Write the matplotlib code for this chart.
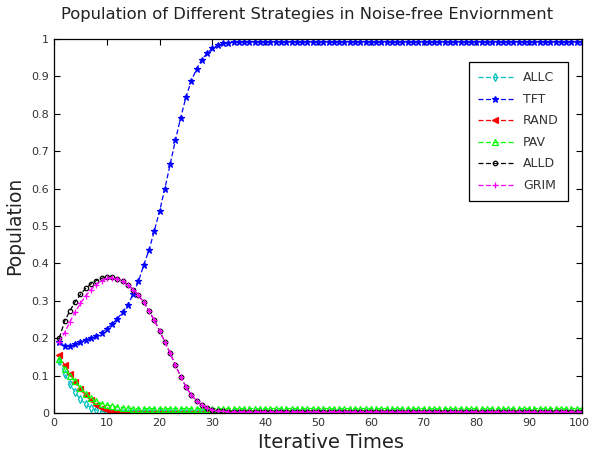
import numpy as np
import matplotlib.transforms as mtransforms
from matplotlib import pyplot as plt

plt.rcParams['font.family'] = ['DejaVu Sans']

# iteration index and population share of each strategy
iters = np.arange(1, 101)

allc = [0.14, 0.105, 0.078, 0.055, 0.037, 0.024, 0.014, 0.008, 0.004, 0.002,
        0.001, 0.0, 0.0, 0.0, 0.0, 0.0, 0.0, 0.0, 0.0, 0.0,
        0.0, 0.0, 0.0, 0.0, 0.0, 0.0, 0.0, 0.0, 0.0, 0.0,
        0.0, 0.0, 0.0, 0.0, 0.0, 0.0, 0.0, 0.0, 0.0, 0.0,
        0.0, 0.0, 0.0, 0.0, 0.0, 0.0, 0.0, 0.0, 0.0, 0.0,
        0.0, 0.0, 0.0, 0.0, 0.0, 0.0, 0.0, 0.0, 0.0, 0.0,
        0.0, 0.0, 0.0, 0.0, 0.0, 0.0, 0.0, 0.0, 0.0, 0.0,
        0.0, 0.0, 0.0, 0.0, 0.0, 0.0, 0.0, 0.0, 0.0, 0.0,
        0.0, 0.0, 0.0, 0.0, 0.0, 0.0, 0.0, 0.0, 0.0, 0.0,
        0.0, 0.0, 0.0, 0.0, 0.0, 0.0, 0.0, 0.0, 0.0, 0.0]

tft = [0.19, 0.18, 0.18, 0.185, 0.19, 0.195, 0.2, 0.207, 0.215, 0.225,
       0.238, 0.252, 0.27, 0.29, 0.318, 0.352, 0.396, 0.436, 0.487, 0.54,
       0.6, 0.665, 0.73, 0.79, 0.845, 0.888, 0.92, 0.945, 0.962, 0.975,
       0.983, 0.988, 0.99, 0.992, 0.993, 0.993, 0.993, 0.993, 0.993, 0.993,
       0.993, 0.993, 0.993, 0.993, 0.993, 0.993, 0.993, 0.993, 0.993, 0.993,
       0.993, 0.993, 0.993, 0.993, 0.993, 0.993, 0.993, 0.993, 0.993, 0.993,
       0.993, 0.993, 0.993, 0.993, 0.993, 0.993, 0.993, 0.993, 0.993, 0.993,
       0.993, 0.993, 0.993, 0.993, 0.993, 0.993, 0.993, 0.993, 0.993, 0.993,
       0.993, 0.993, 0.993, 0.993, 0.993, 0.993, 0.993, 0.993, 0.993, 0.993,
       0.993, 0.993, 0.993, 0.993, 0.993, 0.993, 0.993, 0.993, 0.993, 0.993]

rand = [0.155, 0.128, 0.105, 0.082, 0.064, 0.048, 0.034, 0.022, 0.013, 0.007,
        0.004, 0.002, 0.001, 0.001, 0.001, 0.001, 0.001, 0.001, 0.001, 0.001,
        0.001, 0.001, 0.001, 0.001, 0.001, 0.001, 0.001, 0.001, 0.001, 0.001,
        0.001, 0.001, 0.001, 0.001, 0.001, 0.001, 0.001, 0.001, 0.001, 0.001,
        0.001, 0.001, 0.001, 0.001, 0.001, 0.001, 0.001, 0.001, 0.001, 0.001,
        0.001, 0.001, 0.001, 0.001, 0.001, 0.001, 0.001, 0.001, 0.001, 0.001,
        0.001, 0.001, 0.001, 0.001, 0.001, 0.001, 0.001, 0.001, 0.001, 0.001,
        0.001, 0.001, 0.001, 0.001, 0.001, 0.001, 0.001, 0.001, 0.001, 0.001,
        0.001, 0.001, 0.001, 0.001, 0.001, 0.001, 0.001, 0.001, 0.001, 0.001,
        0.001, 0.001, 0.001, 0.001, 0.001, 0.001, 0.001, 0.001, 0.001, 0.001]

pav = [0.145, 0.118, 0.1, 0.085, 0.068, 0.052, 0.04, 0.031, 0.025, 0.021,
       0.018, 0.016, 0.014, 0.013, 0.012, 0.012, 0.012, 0.012, 0.012, 0.012,
       0.012, 0.012, 0.012, 0.012, 0.012, 0.012, 0.012, 0.012, 0.012, 0.012,
       0.012, 0.012, 0.012, 0.012, 0.012, 0.012, 0.012, 0.012, 0.012, 0.012,
       0.012, 0.012, 0.012, 0.012, 0.012, 0.012, 0.012, 0.012, 0.012, 0.012,
       0.012, 0.012, 0.012, 0.012, 0.012, 0.012, 0.012, 0.012, 0.012, 0.012,
       0.012, 0.012, 0.012, 0.012, 0.012, 0.012, 0.012, 0.012, 0.012, 0.012,
       0.012, 0.012, 0.012, 0.012, 0.012, 0.012, 0.012, 0.012, 0.012, 0.012,
       0.012, 0.012, 0.012, 0.012, 0.012, 0.012, 0.012, 0.012, 0.012, 0.012,
       0.012, 0.012, 0.012, 0.012, 0.012, 0.012, 0.012, 0.012, 0.012, 0.012]

alld = [0.2, 0.245, 0.273, 0.297, 0.317, 0.333, 0.345, 0.354, 0.36, 0.363,
        0.363, 0.359, 0.352, 0.342, 0.33, 0.315, 0.296, 0.273, 0.248, 0.22,
        0.19, 0.16, 0.128, 0.097, 0.07, 0.048, 0.033, 0.021, 0.013, 0.008,
        0.006, 0.005, 0.004, 0.004, 0.004, 0.004, 0.004, 0.004, 0.004, 0.004,
        0.004, 0.004, 0.004, 0.004, 0.004, 0.004, 0.004, 0.004, 0.004, 0.004,
        0.004, 0.004, 0.004, 0.004, 0.004, 0.004, 0.004, 0.004, 0.004, 0.004,
        0.004, 0.004, 0.004, 0.004, 0.004, 0.004, 0.004, 0.004, 0.004, 0.004,
        0.004, 0.004, 0.004, 0.004, 0.004, 0.004, 0.004, 0.004, 0.004, 0.004,
        0.004, 0.004, 0.004, 0.004, 0.004, 0.004, 0.004, 0.004, 0.004, 0.004,
        0.004, 0.004, 0.004, 0.004, 0.004, 0.004, 0.004, 0.004, 0.004, 0.004]

grim = [0.19, 0.215, 0.243, 0.27, 0.293, 0.313, 0.33, 0.343, 0.353, 0.36,
        0.362, 0.359, 0.352, 0.342, 0.33, 0.315, 0.296, 0.273, 0.248, 0.22,
        0.19, 0.16, 0.128, 0.097, 0.07, 0.048, 0.033, 0.021, 0.013, 0.008,
        0.006, 0.005, 0.004, 0.004, 0.004, 0.004, 0.004, 0.004, 0.004, 0.004,
        0.004, 0.004, 0.004, 0.004, 0.004, 0.004, 0.004, 0.004, 0.004, 0.004,
        0.004, 0.004, 0.004, 0.004, 0.004, 0.004, 0.004, 0.004, 0.004, 0.004,
        0.004, 0.004, 0.004, 0.004, 0.004, 0.004, 0.004, 0.004, 0.004, 0.004,
        0.004, 0.004, 0.004, 0.004, 0.004, 0.004, 0.004, 0.004, 0.004, 0.004,
        0.004, 0.004, 0.004, 0.004, 0.004, 0.004, 0.004, 0.004, 0.004, 0.004,
        0.004, 0.004, 0.004, 0.004, 0.004, 0.004, 0.004, 0.004, 0.004, 0.004]

x_ticks = [0, 10, 20, 30, 40, 50, 60, 70, 80, 90, 100]
y_ticks = [0, 0.1, 0.2, 0.3, 0.4, 0.5, 0.6, 0.7, 0.8, 0.9, 1]
y_tick_labels = ['0', '0.1', '0.2', '0.3', '0.4', '0.5', '0.6', '0.7', '0.8', '0.9', '1']

fig = plt.figure(figsize=(5.9, 4.55), dpi=100)
ax = fig.add_axes([54 / 590, 1 - 413 / 455, 528 / 590, 374 / 455])

# (label, data, colour, marker, size, filled)
series = [
    ('ALLC', allc, '#00bfbf', 'd', 3.8, False),
    ('TFT', tft, '#0000ff', '*', 5.0, True),
    ('RAND', rand, '#ff0000', '<', 3.8, True),
    ('PAV', pav, '#00ff00', '^', 3.8, False),
    ('ALLD', alld, '#000000', 'o', 3.2, False),
    ('GRIM', grim, '#ff00ff', '+', 4.2, True),
]

for label, vals, col, mk, ms, filled in series:
    ax.plot(iters, vals, linestyle='--', dashes=(4, 2), color=col, lw=0.9,
            marker=mk, markersize=ms,
            markerfacecolor=col if filled else 'none',
            markeredgecolor=col, markeredgewidth=0.9, label=label)

ax.set_xlim(0, 100)
ax.set_ylim(0, 1)
ax.set_xticks(x_ticks)
ax.set_yticks(y_ticks)
ax.set_yticklabels(y_tick_labels)
ax.tick_params(direction='in', length=4, width=0.8, top=True, right=True,
               labelsize=8, labelcolor='#333333', pad=3.5)
for sp in ax.spines.values():
    sp.set_linewidth(0.9)

# nudge the "100" label left a few pixels so it stays on the canvas
last = ax.xaxis.get_major_ticks()[-1].label1
last.set_transform(last.get_transform() +
                   mtransforms.ScaledTranslation(-3 / 100, 0, fig.dpi_scale_trans))

leg = ax.legend(loc='upper right', bbox_to_anchor=(0.9735, 0.9385),
                borderaxespad=0, fancybox=False, framealpha=1,
                edgecolor='black', fontsize=9, handlelength=2.8,
                labelspacing=0.68, borderpad=0.75, handletextpad=0.8)
leg.get_frame().set_linewidth(0.9)
for t in leg.get_texts():
    t.set_color('#333333')

fig.text(0.521, 1 - 14 / 455, 'Population of Different Strategies in Noise-free Enviornment',
         ha='center', va='center', fontsize=11.8, color='#222222')
fig.text(0.561, 1 - 442 / 455, 'Iterative Times', ha='center', va='center',
         fontsize=14, color='#222222')
fig.text(15 / 590, 1 - 226 / 455, 'Population', ha='center', va='center',
         rotation=90, fontsize=13.5, color='#222222')

fig.savefig('out.png', dpi=100)
